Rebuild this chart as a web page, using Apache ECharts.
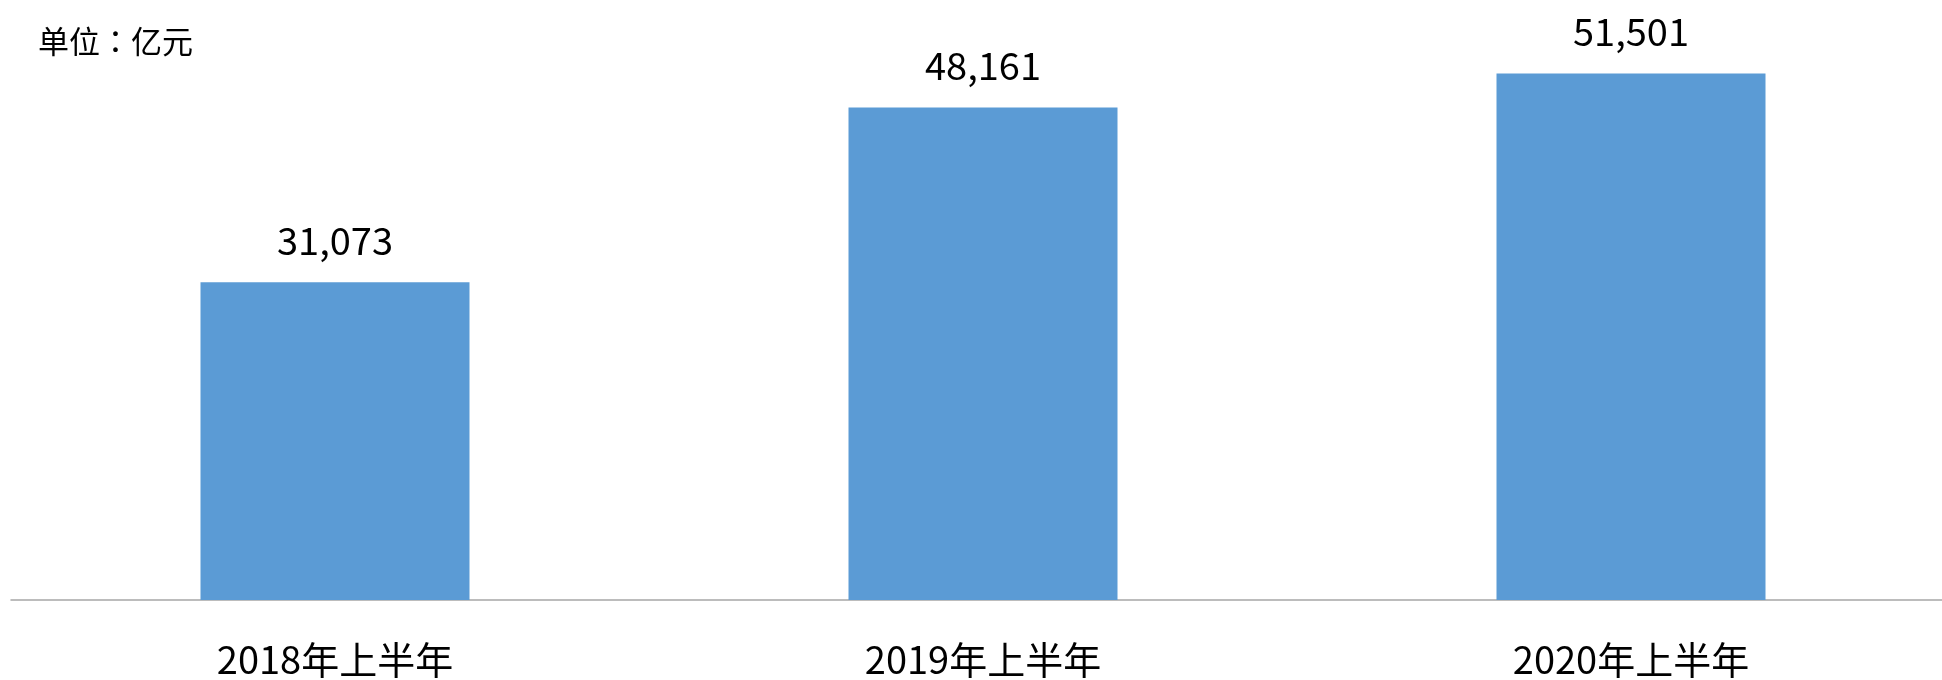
<!DOCTYPE html>
<html>
<head>
<meta charset="utf-8">
<script src="https://cdn.jsdelivr.net/npm/echarts@6/dist/echarts.min.js"></script>
<style>
  html, body { margin: 0; padding: 0; background: #fff; }
  #main { width: 1942px; height: 680px; }
</style>
</head>
<body>
<div id="main"></div>
<script>
// 数据
var categories = ['2018年上半年', '2019年上半年', '2020年上半年'];
var values = [31073, 48161, 51501];
var unitText = '单位：亿元';

var myChart = echarts.init(document.getElementById('main'));
var fontFamily = '"Noto Sans CJK SC", "Noto Sans", sans-serif';

var option = {
  animation: false,
  backgroundColor: '#ffffff',
  title: {
    text: unitText,
    left: 33,
    top: 21,
    textStyle: {
      fontFamily: '"Noto Sans CJK TC", "Noto Sans CJK SC", sans-serif',
      fontSize: 31,
      fontWeight: 'normal',
      color: '#000'
    }
  },
  grid: {
    left: 11,
    width: 1944,
    top: 7,
    bottom: 80,
    containLabel: false,
    outerBoundsMode: 'none'
  },
  xAxis: {
    type: 'category',
    data: categories,
    axisLine: { lineStyle: { color: '#a6a6a6', width: 1.5 } },
    axisTick: { show: false },
    axisLabel: {
      margin: 41,
      fontFamily: fontFamily,
      fontSize: 38,
      color: '#000'
    }
  },
  yAxis: {
    type: 'value',
    min: 0,
    max: 58000,
    show: false,
    splitLine: { show: false }
  },
  series: [
    {
      type: 'bar',
      data: values,
      barWidth: 269,
      itemStyle: { color: '#5B9BD5' },
      label: {
        show: true,
        position: 'top',
        distance: 23,
        fontFamily: fontFamily,
        fontSize: 38,
        color: '#000',
        formatter: function (p) {
          return p.value.toLocaleString('en-US');
        }
      }
    }
  ]
};

myChart.setOption(option);
</script>
</body>
</html>
